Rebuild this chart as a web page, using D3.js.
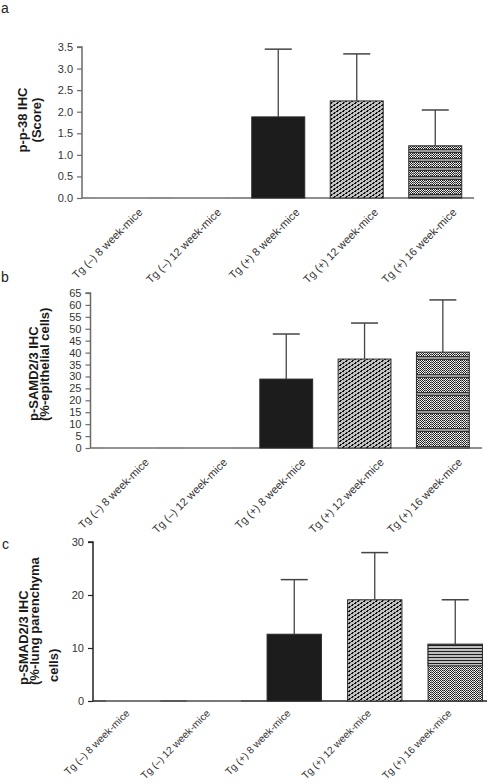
<!DOCTYPE html>
<html><head><meta charset="utf-8">
<script src="https://cdn.jsdelivr.net/npm/d3@7"></script>
<style>
html,body{margin:0;padding:0;background:#fff;}
svg{display:block;font-family:"Liberation Sans",Arial,Helvetica,sans-serif;}
</style></head>
<body>
<script>
// ---- data ----
const categories = ["Tg (\u2013) 8 week-mice","Tg (\u2013) 12 week-mice","Tg (+) 8 week-mice","Tg (+) 12 week-mice","Tg (+) 16 week-mice"];
const p38Values   = [0, 0, 1.88, 2.25, 1.21];
const p38Errors   = [0, 0, 1.57, 1.09, 0.83];
const p38Ticks    = [0,0.5,1.0,1.5,2.0,2.5,3.0,3.5];
const epiValues   = [0, 0, 28.9, 37.3, 40.2];
const epiErrors   = [0, 0, 18.9, 15.1, 21.9];
const epiTicks    = [0,5,10,15,20,25,30,35,40,45,50,55,60,65];
const lungValues  = [0, 0, 12.6, 19.1, 10.7];
const lungErrors  = [0, 0, 10.3, 8.9, 8.4];
const lungTicks   = [0,10,20,30];
const fills = ["none","none","solid","hatch","dots"];

const W = 496, H = 784;
const svg = d3.select("body").append("svg").attr("width", W).attr("height", H);
const defs = svg.append("defs");

// hatch: short black diagonal dashes on gray
const hatch = defs.append("pattern").attr("id","hatch").attr("patternUnits","userSpaceOnUse").attr("width",6).attr("height",4);
hatch.append("rect").attr("width",6).attr("height",4).attr("fill","#c4c4c4");
[[0,2],[3,0]].forEach(([x,y])=>{
  hatch.append("rect").attr("x",x).attr("y",y+1).attr("width",1).attr("height",1).attr("fill","#0e0e0e");
  hatch.append("rect").attr("x",x+1).attr("y",y).attr("width",1).attr("height",1).attr("fill","#0e0e0e");
  hatch.append("rect").attr("x",x+2).attr("y",y).attr("width",1).attr("height",1).attr("fill","#444");
});
hatch.append("rect").attr("x",1).attr("y",3).attr("width",1).attr("height",1).attr("fill","#0e0e0e");
hatch.append("rect").attr("x",4).attr("y",1).attr("width",1).attr("height",1).attr("fill","#0e0e0e");

// dot/checker patterns, optionally with horizontal dark bands
function dotPattern(id, h, band){
  const p = defs.append("pattern").attr("id",id).attr("patternUnits","userSpaceOnUse").attr("width",6).attr("height",h);
  p.append("rect").attr("width",6).attr("height",h).attr("fill","#f2f2f2");
  for (let yy=0; yy<h; yy++){
    for (let xx=0; xx<6; xx++){
      if ((xx+yy)%2===0 && xx!==5) p.append("rect").attr("x",xx).attr("y",yy).attr("width",1).attr("height",1).attr("fill","#1e1e1e");
    }
  }
  p.append("rect").attr("x",5).attr("y",0).attr("width",1).attr("height",h).attr("fill","#8c8c8c");
  if (band){
    p.append("rect").attr("y",h-4).attr("width",6).attr("height",1).attr("fill","#333");
    p.append("rect").attr("y",h-3).attr("width",6).attr("height",2).attr("fill","#9a9a9a");
    p.append("rect").attr("y",h-1).attr("width",6).attr("height",1).attr("fill","#333");
  }
}
dotPattern("dots", 4, false);
dotPattern("bandsA", 9, true);
dotPattern("bandsB", 18, true);
const lines = defs.append("pattern").attr("id","lines").attr("patternUnits","userSpaceOnUse").attr("width",4).attr("height",3);
lines.append("rect").attr("width",4).attr("height",3).attr("fill","#c0c0c0");
lines.append("rect").attr("width",4).attr("height",1).attr("fill","#1e1e1e");

function panel(cfg){
  const g = svg.append("g");
  const x = d3.scaleBand().domain(categories)
    .range([cfg.x0, cfg.x0 + cfg.step*categories.length])
    .paddingInner(cfg.pad).paddingOuter(cfg.pad/2);
  const y = d3.scaleLinear().domain(cfg.domain).range([cfg.y0, cfg.y1]);

  // y axis
  const ya = d3.axisLeft(y).tickValues(cfg.ticks).tickFormat(cfg.fmt).tickSize(5).tickPadding(4);
  const yg = g.append("g").attr("transform",`translate(${cfg.x0},0)`).call(ya);
  yg.select(".domain").attr("stroke",cfg.axisColor).attr("stroke-width",1.5).attr("d",`M-5,${cfg.y1}H0V${cfg.y0}`);
  yg.selectAll(".tick line").attr("stroke",cfg.axisColor).attr("stroke-width",1.2);
  yg.selectAll(".tick text").attr("fill","#333").style("font-size","11px").style("font-family","'Liberation Sans',Arial,sans-serif");

  // x axis line
  g.append("line").attr("x1",cfg.x0).attr("x2",cfg.xEnd).attr("y1",cfg.y0).attr("y2",cfg.y0)
    .attr("stroke",cfg.axisColor).attr("stroke-width",1.5);

  // bars
  const data = categories.map((c,i)=>({c, v:cfg.values[i], e:cfg.errors[i], f:fills[i]}));
  const fillOf = d => d.f==="solid" ? "#1c1c1c" : d.f==="hatch" ? "url(#hatch)" : d.f==="dots" ? `url(#${cfg.dotsId})` : "none";
  g.selectAll("rect.bar").data(data.filter(d=>d.f!=="none")).join("rect").attr("class","bar")
    .attr("x",d=>x(d.c)).attr("width",x.bandwidth())
    .attr("y",d=>y(d.v)).attr("height",d=>y(0)-y(d.v))
    .attr("fill",fillOf).attr("stroke","#2a2a2a").attr("stroke-width",1);
  if (cfg.topLines){
    const d5 = data[4];
    g.append("rect").attr("x",x(d5.c)).attr("width",x.bandwidth())
      .attr("y",y(d5.v)).attr("height",(y(0)-y(d5.v))*0.38)
      .attr("fill","url(#lines)").attr("stroke","#2a2a2a").attr("stroke-width",1);
  }
  // zero bars: faint line
  g.selectAll("line.zero").data(data.filter(d=>d.f==="none")).join("line").attr("class","zero")
    .attr("x1",d=>x(d.c)).attr("x2",d=>x(d.c)+x.bandwidth()).attr("y1",d=>y(d.v)).attr("y2",d=>y(d.v))
    .attr("stroke","#999").attr("stroke-width",1);

  // error bars
  const eb = data.filter(d=>d.e>0);
  g.selectAll("line.ev").data(eb).join("line").attr("class","ev")
    .attr("x1",d=>x(d.c)+x.bandwidth()/2).attr("x2",d=>x(d.c)+x.bandwidth()/2)
    .attr("y1",d=>y(d.v)).attr("y2",d=>y(d.v+d.e)).attr("stroke","#444").attr("stroke-width",1.3);
  g.selectAll("line.ec").data(eb).join("line").attr("class","ec")
    .attr("x1",d=>x(d.c)+x.bandwidth()/2-13.5).attr("x2",d=>x(d.c)+x.bandwidth()/2+13.5)
    .attr("y1",d=>y(d.v+d.e)).attr("y2",d=>y(d.v+d.e)).attr("stroke","#444").attr("stroke-width",1.5);

  // x labels
  g.selectAll("text.xl").data(categories).join("text").attr("class","xl")
    .attr("transform",c=>`translate(${x(c)+x.bandwidth()/2+cfg.ldx},${cfg.y0+cfg.ldy}) rotate(-45)`)
    .attr("text-anchor","end").attr("fill","#333").style("font-size",cfg.lfs).text(c=>c);

  // y title
  cfg.title.forEach(t=>{
    g.append("text").attr("transform",`translate(${t.x},${t.y}) rotate(-90)`)
      .attr("text-anchor",t.anchor).attr("fill","#1a1a1a")
      .style("font-size","13px").style("font-weight","bold").text(t.s);
  });
  // panel letter
  g.append("text").attr("x",cfg.letter[1]).attr("y",cfg.letter[2]).attr("fill","#222")
    .style("font-size","14px").text(cfg.letter[0]);
}

panel({x0:82, step:78.5, pad:0.325, xEnd:474, domain:[0,3.5], y0:198, y1:47,
  ticks:p38Ticks, fmt:d3.format(".1f"), values:p38Values, errors:p38Errors,
  axisColor:"#6a6a6a", dotsId:"bandsA", ldx:22, ldy:15, lfs:"11px",
  title:[{s:"p-p-38 IHC",x:27,y:120,anchor:"middle"},{s:"(Score)",x:41,y:120,anchor:"middle"}],
  letter:["a",1,13]});

panel({x0:90.5, step:78.3, pad:0.325, xEnd:482, domain:[0,65], y0:448, y1:293,
  ticks:epiTicks, fmt:d3.format("d"), values:epiValues, errors:epiErrors,
  axisColor:"#6a6a6a", dotsId:"bandsB", ldx:20, ldy:15, lfs:"11px",
  title:[{s:"p-SAMD2/3 IHC",x:38,y:421,anchor:"start"},{s:"(%-epithelial cells)",x:49,y:421,anchor:"start"}],
  letter:["b",1,282]});

panel({x0:93, step:80.5, pad:0.325, xEnd:487, domain:[0,30], y0:701, y1:542,
  ticks:lungTicks, fmt:d3.format("d"), values:lungValues, errors:lungErrors,
  axisColor:"#222", dotsId:"dots", ldx:-3, ldy:13, lfs:"10.2px", topLines:true,
  title:[{s:"p-SMAD2/3 IHC",x:28,y:685,anchor:"start"},{s:"(%-lung parenchyma",x:38.5,y:685,anchor:"start"},{s:"cells)",x:58,y:682,anchor:"start"}],
  letter:["c",2,549]});
</script>
</body></html>
